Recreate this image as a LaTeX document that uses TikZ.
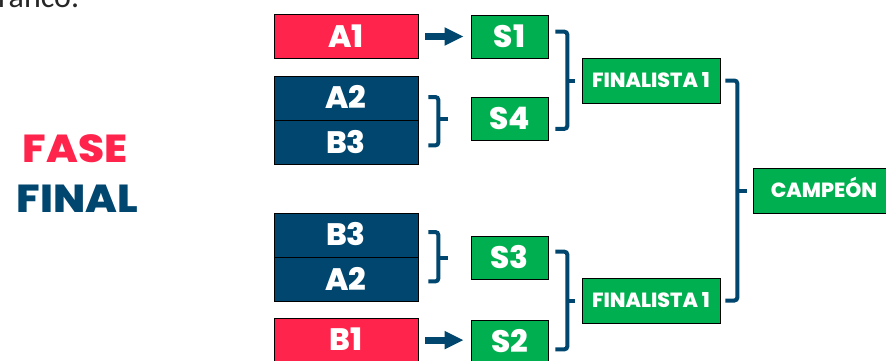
\documentclass[tikz,border=0pt]{standalone}
\usepackage{fontspec}
\IfFontExistsTF{Poppins ExtraBold}
  {\setmainfont{Poppins}[BoldFont={Poppins ExtraBold}]}
  {\setmainfont{Poppins}}
\newfontfamily\textofont{Carlito}
\usetikzlibrary{positioning,arrows.meta}

\definecolor{rojo}{RGB}{255,36,76}
\definecolor{azul}{RGB}{0,70,110}
\definecolor{verde}{RGB}{0,176,80}

\tikzset{
  equipo/.style={draw=black, line width=0.7pt, text=white, inner sep=0pt,
    minimum width=144pt, minimum height=43.5pt, text height=21.5pt, text depth=0pt,
    font=\bfseries\fontsize{31}{31}\selectfont},
  semi/.style={equipo, fill=verde, minimum width=77pt, minimum height=43pt},
  finalista/.style={equipo, fill=verde, minimum width=138pt, minimum height=45pt,
    text height=14.5pt, font=\bfseries\fontsize{20.5}{20.5}\selectfont},
  llave/.style={draw=azul, line width=4pt, rounded corners=3pt},
  flecha/.style={draw=azul, line width=7pt, -{Triangle[length=19pt,width=17pt]},
    shorten <=7pt, shorten >=7pt},
}

\begin{document}
\begin{tikzpicture}[x=1pt, y=-1pt]
\useasboundingbox (0,0) rectangle (886,361);

% texto cortado arriba
\node[anchor=base west, inner sep=0pt, text=black!85,
  font=\textofont\fontsize{32}{32}\selectfont] (texto) at (-2,7.5) {ranco.};

% titulo
\node[text=rojo, xscale=1.08, font=\bfseries\fontsize{39}{39}\selectfont] (fase) at (75,148.5) {FASE};
\node[text=azul, xscale=1.08, font=\bfseries\fontsize{39}{39}\selectfont] (final) at (77.5,199) {FINAL};

% equipos
\node[equipo, fill=rojo] (a1) at (346,36.5) {A1};
\node[equipo, fill=azul, anchor=north] (a2) at (346,76) {A2};
\node[equipo, fill=azul, below=0pt of a2] (b3) {B3};
\node[equipo, fill=azul, anchor=north] (b3b) at (346,213) {B3};
\node[equipo, fill=azul, below=0pt of b3b] (a2b) {A2};
\node[equipo, fill=rojo, anchor=north] (b1) at (346,318) {B1};

% semifinales
\node[semi] (s1) at (509.5,36.5) {S1};
\node[semi] (s4) at (509.5,119) {S4};
\node[semi] (s3) at (509.5,257.5) {S3};
\node[semi] (s2) at (509.5,341.5) {S2};

% final
\node[finalista] (f1) at (651,80.5) {FINALISTA 1};
\node[finalista] (f2) at (651,300.5) {FINALISTA 1};
\node[finalista, minimum width=142pt] (camp) at (824,190.5) {CAMPEÓN};

% flechas
\draw[flecha] (a1) -- (s1);
\draw[flecha] (b1.east) -- (b1.east -| s2.west);

% llaves
\draw[llave] ([xshift=10pt,yshift=-21pt]a2.north east) -| ([xshift=20pt,yshift=19pt]b3.south east)
  -- ([xshift=10pt,yshift=19pt]b3.south east);
\draw[llave] (s4.west -| b3.east) ++(20,0) -- ++(10,0);

\draw[llave] ([xshift=10pt,yshift=-19pt]b3b.north east) -| ([xshift=20pt,yshift=20pt]a2b.south east)
  -- ([xshift=10pt,yshift=20pt]a2b.south east);
\draw[llave] (s3.west -| b3b.east) ++(20,0) -- ++(10,0);

\draw[llave] ([xshift=7pt,yshift=-17pt]s1.north east) -| ([xshift=19pt,yshift=12pt]s4.south east)
  -- ([xshift=7pt,yshift=12pt]s4.south east);
\draw[llave] (f1.west -| s1.east) ++(19,0) -- ++(8,0);

\draw[llave] ([xshift=7pt,yshift=-16pt]s3.north east) -| ([xshift=19pt,yshift=14pt]s2.south east)
  -- ([xshift=7pt,yshift=14pt]s2.south east);
\draw[llave] (f2.west -| s3.east) ++(19,0) -- ++(8,0);

\draw[llave] ([xshift=5pt]f1.east) -| ([xshift=17pt]f2.east) -- ([xshift=5pt]f2.east);
\draw[llave] (camp.west -| f1.east) ++(17,0) -- ++(10,0);
\end{tikzpicture}
\end{document}
